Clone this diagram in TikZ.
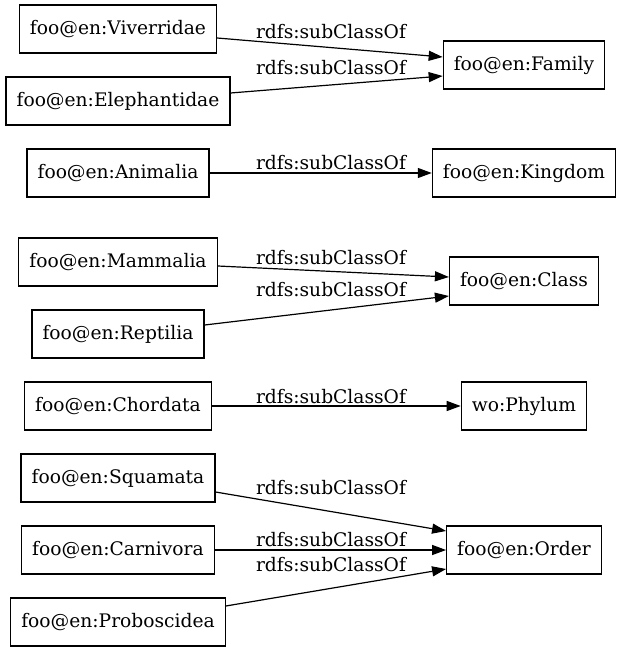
\documentclass[tikz,border=0pt]{standalone}
\usepackage{fontspec}
\setmainfont{DejaVu Serif}
\usetikzlibrary{arrows.meta}

\begin{document}
\begin{tikzpicture}[
  x=0.75pt,
  y=-0.75pt,
  font=\fontsize{14}{16}\selectfont,
  >={Triangle[length=10.5pt, width=7.5pt]},
  cls/.style={draw, line width=0.9pt, minimum height=36pt, inner xsep=7.9pt, inner ysep=0pt},
  rel/.style={->, line width=0.9pt},
  lbl/.style={inner sep=0pt}
]
\useasboundingbox (0,0) rectangle (621,652);

% subclasses (left column)
\node[cls] (viverridae) at (118,29) {foo@en:Viverridae};
\node[cls] (elephantidae) at (118,101) {foo@en:Elephantidae};
\node[cls] (animalia) at (118,173) {foo@en:Animalia};
\node[cls] (mammalia) at (118,262) {foo@en:Mammalia};
\node[cls] (reptilia) at (118,334) {foo@en:Reptilia};
\node[cls] (chordata) at (118,406) {foo@en:Chordata};
\node[cls] (squamata) at (118,478) {foo@en:Squamata};
\node[cls] (carnivora) at (118,550) {foo@en:Carnivora};
\node[cls] (proboscidea) at (118,622) {foo@en:Proboscidea};

% superclasses (right column)
\node[cls] (family) at (524,65) {foo@en:Family};
\node[cls] (kingdom) at (524,173) {foo@en:Kingdom};
\node[cls] (class) at (524,281) {foo@en:Class};
\node[cls] (phylum) at (524,406) {wo:Phylum};
\node[cls] (order) at (524,550) {foo@en:Order};

\draw[rel] ([yshift=-6.75pt]viverridae.east) -- ([yshift=6pt]family.west)
  node[lbl] at (331,32) {rdfs:subClassOf};
\draw[rel] ([yshift=6pt]elephantidae.east) -- ([yshift=-8.25pt]family.west)
  node[lbl] at (331,68) {rdfs:subClassOf};
\draw[rel] (animalia.east) -- (kingdom.west)
  node[lbl] at (331,163) {rdfs:subClassOf};
\draw[rel] ([yshift=-3pt]mammalia.east) -- ([yshift=3pt]class.west)
  node[lbl] at (331,258) {rdfs:subClassOf};
\draw[rel] ([yshift=6.75pt]reptilia.east) -- ([yshift=-11.25pt]class.west)
  node[lbl] at (331,290) {rdfs:subClassOf};
\draw[rel] (chordata.east) -- (phylum.west)
  node[lbl] at (331,397) {rdfs:subClassOf};
\draw[rel] ([yshift=-10.5pt]squamata.east) -- ([yshift=14.25pt]order.west)
  node[lbl] at (331,488) {rdfs:subClassOf};
\draw[rel] (carnivora.east) -- (order.west)
  node[lbl] at (331,540) {rdfs:subClassOf};
\draw[rel] ([yshift=12pt]proboscidea.east) -- ([yshift=-14.25pt]order.west)
  node[lbl] at (331,565) {rdfs:subClassOf};
\end{tikzpicture}
\end{document}
